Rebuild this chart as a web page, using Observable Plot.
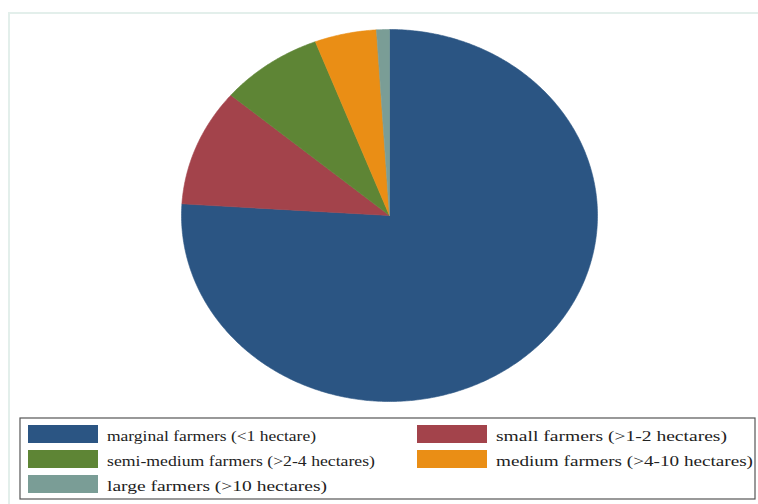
<!DOCTYPE html>
<html>
<head>
<meta charset="utf-8">
<script src="https://cdn.jsdelivr.net/npm/d3@7"></script>
<script src="https://cdn.jsdelivr.net/npm/@observablehq/plot@0.6"></script>
<style>
  body { margin: 0; background: #fff; width: 758px; height: 504px; position: relative; overflow: hidden; }
  #frame { position: absolute; left: 8px; top: 12px; width: 760px; height: 500px;
           border-top: 2px solid #e3efeb; border-left: 2px solid #e3efeb; }
  #chart { position: absolute; left: 0; top: 0; }
  #legend { position: absolute; left: 19px; top: 417px; }
</style>
</head>
<body>
<div id="frame"></div>
<div id="chart"></div>
<div id="legend"></div>
<script>
// Farm-size classes, their share of holdings (%) and the slice colours
const categories = [
  "marginal farmers (<1 hectare)",
  "small farmers (>1-2 hectares)",
  "semi-medium farmers (>2-4 hectares)",
  "medium farmers (>4-10 hectares)",
  "large farmers (>10 hectares)"
];
const shares = [76.0, 10.2, 8.0, 4.8, 1.0];
const colors = ["#2b5583", "#a3434b", "#5e8535", "#ea8e15", "#7a9d96"];

// Legend label widths (px), so each key text spans its slot
const labelWidths = [209, 231, 268, 257, 220];

// Slices run clockwise from twelve o'clock; each is a closed outline
// (centre -> arc -> centre) in unit-circle coordinates.
const total = d3.sum(shares);
let acc = 0;
const slicePoints = [];
categories.forEach((c, i) => {
  const a0 = acc / total * 2 * Math.PI;
  acc += shares[i];
  const a1 = acc / total * 2 * Math.PI;
  const n = Math.max(2, Math.ceil((a1 - a0) / (Math.PI / 360)));
  slicePoints.push({category: c, x: 0, y: 0});
  for (let k = 0; k <= n; k++) {
    const a = a0 + (a1 - a0) * k / n;
    slicePoints.push({category: c, x: Math.sin(a), y: Math.cos(a)});
  }
  slicePoints.push({category: c, x: 0, y: 0});
});

const chart = Plot.plot({
  width: 758,
  height: 412,
  marginLeft: 181,
  marginRight: 161,
  marginTop: 29,
  marginBottom: 11,
  x: {domain: [-1, 1], axis: null},
  y: {domain: [-1, 1], axis: null},
  color: {domain: categories, range: colors},
  marks: [
    Plot.line(slicePoints, {
      x: "x", y: "y", z: "category",
      fill: "category", stroke: "category", strokeWidth: 0.6,
      curve: "linear"
    })
  ]
});
document.getElementById("chart").append(chart);

// Boxed two-column legend below the pie
const lw = 737, lh = 83;
const svg = d3.select("#legend").append("svg")
  .attr("width", lw).attr("height", lh);
svg.append("rect")
  .attr("x", 1).attr("y", 1).attr("width", lw - 2).attr("height", lh - 2)
  .attr("fill", "#fff").attr("stroke", "#555").attr("stroke-width", 1.2);
const colX = [9, 398], rowY = [8, 33, 58];
categories.forEach((c, i) => {
  const col = i % 2, row = Math.floor(i / 2);
  svg.append("rect")
    .attr("x", colX[col]).attr("y", rowY[row])
    .attr("width", 70).attr("height", 18)
    .attr("fill", colors[i]);
  svg.append("text")
    .attr("x", colX[col] + 79)
    .attr("y", rowY[row] + 16)
    .attr("textLength", labelWidths[i])
    .attr("lengthAdjust", "spacingAndGlyphs")
    .attr("font-family", "'Liberation Serif', serif")
    .attr("font-size", 15.5)
    .attr("fill", "#222")
    .text(c);
});
</script>
</body>
</html>
